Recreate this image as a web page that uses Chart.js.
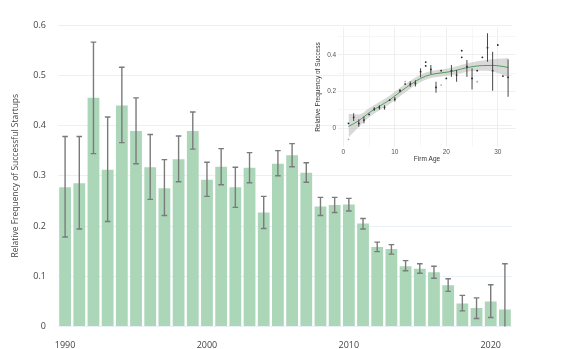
<!DOCTYPE html>
<html>
<head>
<meta charset="utf-8">
<script src="https://cdn.jsdelivr.net/npm/chart.js@4"></script>
<style>
html, body { margin: 0; padding: 0; background: #fff; }
#wrap { position: relative; width: 581px; height: 349px; }
#main { position: absolute; left: 0; top: 0; }
#inset { position: absolute; left: 300px; top: 10px; }
</style>
</head>
<body>
<div id="wrap">
  <canvas id="main" width="581" height="349"></canvas>
  <canvas id="inset" width="225" height="160"></canvas>
</div>
<script>
// main chart: success share by founding year
const years = [1990, 1991, 1992, 1993, 1994, 1995, 1996, 1997, 1998, 1999,
  2000, 2001, 2002, 2003, 2004, 2005, 2006, 2007, 2008, 2009,
  2010, 2011, 2012, 2013, 2014, 2015, 2016, 2017, 2018, 2019, 2020, 2021];
const success = [0.277, 0.285, 0.455, 0.312, 0.440, 0.389, 0.317, 0.275, 0.333, 0.389,
  0.292, 0.318, 0.277, 0.316, 0.227, 0.324, 0.341, 0.306, 0.239, 0.242,
  0.243, 0.205, 0.158, 0.154, 0.120, 0.115, 0.108, 0.082, 0.046, 0.037, 0.050, 0.034];
const errLow = [0.178, 0.194, 0.344, 0.209, 0.366, 0.324, 0.253, 0.221, 0.288, 0.353,
  0.259, 0.282, 0.237, 0.286, 0.195, 0.300, 0.318, 0.287, 0.221, 0.227,
  0.230, 0.194, 0.149, 0.144, 0.111, 0.106, 0.096, 0.070, 0.031, 0.016, 0.018, -0.057];
const errHigh = [0.378, 0.378, 0.566, 0.417, 0.516, 0.455, 0.382, 0.332, 0.379, 0.427,
  0.327, 0.354, 0.317, 0.346, 0.259, 0.350, 0.364, 0.326, 0.257, 0.257,
  0.255, 0.215, 0.168, 0.163, 0.131, 0.125, 0.120, 0.095, 0.062, 0.057, 0.083, 0.125];
const yTicks = [0, 0.1, 0.2, 0.3, 0.4, 0.5, 0.6];

// inset: success share by firm age
const ages = [1, 2, 3, 4, 5, 6, 7, 8, 9, 10, 11, 12, 13, 14, 15, 16,
  17, 18, 19, 20, 21, 22, 23, 24, 25, 26, 27, 28, 29, 30, 31, 32];
const ageSuccess = [0.027, 0.060, 0.027, 0.045, 0.076, 0.105, 0.114, 0.114, 0.154, 0.158, 0.205, 0.241, 0.241, 0.245, 0.309, 0.340,
  0.321, 0.223, 0.314, 0.272, 0.314, 0.290, 0.387, 0.336, 0.272, 0.314, 0.387, 0.439, 0.314, 0.454, 0.285, 0.278];
const ageLow = [null, 0.040, 0.009, 0.027, null, 0.095, 0.102, 0.102, null, 0.146, 0.196, null, 0.226, 0.228, 0.278, null,
  0.296, 0.194, null, null, 0.281, 0.254, null, 0.281, 0.212, null, null, 0.363, 0.205, null, null, 0.172];
const ageHigh = [null, 0.082, 0.049, 0.064, null, 0.115, 0.126, 0.126, null, 0.170, 0.214, null, 0.256, 0.262, 0.327, null,
  0.345, 0.254, null, null, 0.345, 0.318, null, 0.372, 0.327, null, null, 0.518, 0.417, null, null, 0.376];
const extraAges = [16, 23];
const extraSuccess = [0.361, 0.423];
const faintAges = [1, 12, 19, 26];
const faintSuccess = [-0.060, 0.255, 0.236, 0.254];
const smoothAges = [1, 3, 5, 7, 9, 11, 13, 15, 17, 19, 21, 23, 25, 27, 29, 31, 32];
const smoothFit = [0.010, 0.042, 0.085, 0.120, 0.155, 0.198, 0.238, 0.272, 0.293, 0.302, 0.310, 0.324, 0.336, 0.342, 0.343, 0.337, 0.332];
const smoothLow = [-0.050, 0.008, 0.060, 0.097, 0.132, 0.175, 0.216, 0.252, 0.274, 0.283, 0.290, 0.302, 0.312, 0.314, 0.310, 0.292, 0.278];
const smoothHigh = [0.080, 0.076, 0.110, 0.143, 0.178, 0.221, 0.260, 0.292, 0.312, 0.321, 0.330, 0.346, 0.360, 0.370, 0.376, 0.380, 0.383];

const errorBars = {
  id: 'errorBars',
  afterDatasetsDraw(chart, args, opts) {
    const ctx = chart.ctx;
    const area = chart.chartArea;
    const meta = chart.getDatasetMeta(opts.dataset);
    const ys = chart.scales.y;
    ctx.save();
    ctx.beginPath();
    ctx.rect(area.left, area.top, area.right - area.left, area.bottom - area.top);
    ctx.clip();
    ctx.strokeStyle = opts.color;
    ctx.lineWidth = opts.width;
    meta.data.forEach((el, i) => {
      const lo = opts.low[i], hi = opts.high[i];
      if (lo == null || hi == null) return;
      const x = el.x;
      const y1 = ys.getPixelForValue(lo), y2 = ys.getPixelForValue(hi);
      ctx.beginPath();
      ctx.moveTo(x, y1);
      ctx.lineTo(x, y2);
      if (opts.cap > 0) {
        ctx.moveTo(x - opts.cap, y1);
        ctx.lineTo(x + opts.cap, y1);
        ctx.moveTo(x - opts.cap, y2);
        ctx.lineTo(x + opts.cap, y2);
      }
      ctx.stroke();
    });
    ctx.restore();
  }
};

new Chart(document.getElementById('main'), {
  type: 'bar',
  data: {
    labels: years,
    datasets: [{
      data: success,
      backgroundColor: '#abd6b8',
      borderWidth: 0,
      barPercentage: 0.83,
      categoryPercentage: 1.0
    }]
  },
  options: {
    responsive: false,
    animation: false,
    layout: { padding: { top: 25, right: 69, left: 0, bottom: 0 } },
    plugins: {
      legend: { display: false },
      tooltip: { enabled: false },
      errorBars: { dataset: 0, low: errLow, high: errHigh, color: '#7b7b7b', width: 1.4, cap: 2.8 }
    },
    scales: {
      x: {
        grid: { display: false },
        border: { display: false },
        ticks: {
          autoSkip: false, maxRotation: 0, padding: 6,
          color: '#444', font: { family: 'Open Sans', size: 9 },
          callback: (v, i) => (years[i] % 10 === 0 ? String(years[i]) : '')
        },
        afterFit(s) { s.height = 22.5; }
      },
      y: {
        min: 0, max: 0.6,
        afterBuildTicks(s) { s.ticks = yTicks.map(v => ({ value: v })); },
        grid: { color: '#ebf0f8', drawTicks: false },
        border: { display: false },
        ticks: {
          padding: 12, color: '#444', font: { family: 'Open Sans', size: 9 },
          callback: v => (v === 0 ? '0' : v.toFixed(1))
        },
        title: {
          display: true, text: 'Relative Frequency of Successful Startups',
          color: '#444', font: { family: 'Open Sans', size: 8.5 }, padding: { top: 10, bottom: 0 }
        },
        afterFit(s) { s.width = 58; }
      }
    }
  },
  plugins: [errorBars]
});

const pts = (xs, ys) => xs.map((x, i) => ({ x: x, y: ys[i] }));

new Chart(document.getElementById('inset'), {
  type: 'scatter',
  data: {
    datasets: [
      { data: pts(ages, ageSuccess), pointRadius: 0.9, pointBackgroundColor: '#222', pointBorderWidth: 0 },
      { data: pts(extraAges, extraSuccess), pointRadius: 0.9, pointBackgroundColor: '#222', pointBorderWidth: 0 },
      { data: pts(faintAges, faintSuccess), pointRadius: 0.9, pointBackgroundColor: '#aaa', pointBorderWidth: 0 },
      { type: 'line', data: pts(smoothAges, smoothFit), borderColor: '#4f9f55', borderWidth: 1,
        pointRadius: 0, cubicInterpolationMode: 'monotone', fill: false },
      { type: 'line', data: pts(smoothAges, smoothHigh), borderWidth: 0, pointRadius: 0,
        cubicInterpolationMode: 'monotone', backgroundColor: 'rgba(170,170,170,0.45)', fill: '+1' },
      { type: 'line', data: pts(smoothAges, smoothLow), borderWidth: 0, pointRadius: 0,
        cubicInterpolationMode: 'monotone', fill: false }
    ]
  },
  options: {
    responsive: false,
    animation: false,
    layout: { padding: { top: 17.4, right: 9.2, left: 0, bottom: 0 } },
    plugins: {
      legend: { display: false },
      tooltip: { enabled: false },
      errorBars: { dataset: 0, low: ageLow, high: ageHigh, color: '#333', width: 0.9, cap: 0 }
    },
    scales: {
      x: {
        type: 'linear', min: -1, max: 33.5,
        afterBuildTicks(s) { s.ticks = [0, 5, 10, 15, 20, 25, 30].map(v => ({ value: v })); },
        grid: { drawTicks: false, lineWidth: 0.8, color: c => (c.tick && c.tick.value % 10 === 0 ? '#ebebeb' : '#f4f4f4') },
        border: { display: false },
        ticks: {
          padding: 2, color: '#555', font: { family: 'Liberation Sans', size: 6.5 },
          callback: v => (v % 10 === 0 ? String(v) : '')
        },
        title: {
          display: true, text: 'Firm Age', color: '#333',
          font: { family: 'Liberation Sans', size: 6.5 }, padding: { top: 0, bottom: 7 }
        },
        afterFit(s) { s.height = 23.3; }
      },
      y: {
        min: -0.1, max: 0.55,
        afterBuildTicks(s) { s.ticks = [0, 0.1, 0.2, 0.3, 0.4, 0.5].map(v => ({ value: v })); },
        grid: { drawTicks: false, lineWidth: 0.8, color: c => (c.tick && Math.round(c.tick.value * 10) % 2 === 0 ? '#ebebeb' : '#f4f4f4') },
        border: { display: false },
        ticks: {
          padding: 2, color: '#555', font: { family: 'Liberation Sans', size: 6.5 },
          callback: v => (Math.round(v * 10) % 2 === 0 ? (v === 0 ? '0' : v.toFixed(1)) : '')
        },
        title: {
          display: true, text: 'Relative Frequency of Success', color: '#333',
          font: { family: 'Liberation Sans', size: 6.5 }, padding: { top: 14, bottom: 0 }
        },
        afterFit(s) { s.width = 38.2; }
      }
    }
  },
  plugins: [errorBars]
});
</script>
</body>
</html>
